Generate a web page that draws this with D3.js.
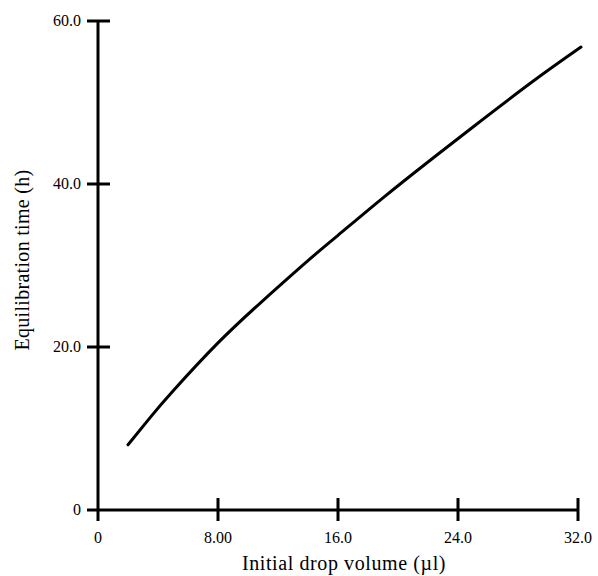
<!DOCTYPE html>
<html>
<head>
<meta charset="utf-8">
<script src="https://cdn.jsdelivr.net/npm/d3@7"></script>
<style>
  body { margin: 0; background: #fff; }
  text { font-family: "Liberation Serif", "DejaVu Serif", serif; fill: #000; }
</style>
</head>
<body>
<div id="chart"></div>
<script>
var volume = [2, 3.5, 5, 8, 11, 14, 16, 19, 22, 25, 29, 32.2];
var eqTime = [8.0, 11.4, 14.6, 20.5, 25.7, 30.6, 33.7, 38.3, 42.7, 47.0, 52.6, 56.8];
var xTicks = [0, 8, 16, 24, 32];
var xTickLabels = ['0', '8.00', '16.0', '24.0', '32.0'];
var yTicks = [0, 20, 40, 60];
var yTickLabels = ['0', '20.0', '40.0', '60.0'];

(function() {
    'use strict';
    var width = 598, height = 576, svg, x, y, line, pts;

    svg = d3.select('#chart').append('svg')
        .attr('width', width)
        .attr('height', height);

    x = d3.scaleLinear().domain([0, 32]).range([98, 578]);
    y = d3.scaleLinear().domain([0, 60]).range([510, 21]);

    // Axes lines
    svg.append('line')
        .attr('x1', x(0)).attr('y1', y(60))
        .attr('x2', x(0)).attr('y2', y(0) + 11)
        .attr('stroke', '#000').attr('stroke-width', 3);
    svg.append('line')
        .attr('x1', x(0) - 11).attr('y1', y(0))
        .attr('x2', x(32)).attr('y2', y(0))
        .attr('stroke', '#000').attr('stroke-width', 3);

    // x ticks
    xTicks.forEach(function(t, i) {
        if (t > 0) {
            svg.append('line')
                .attr('x1', x(t)).attr('x2', x(t))
                .attr('y1', y(0) - 12).attr('y2', y(0) + 11)
                .attr('stroke', '#000').attr('stroke-width', 3);
        }
        svg.append('text')
            .attr('x', x(t))
            .attr('y', y(0) + 33)
            .attr('text-anchor', 'middle')
            .attr('font-size', 16)
            .text(xTickLabels[i]);
    });

    // y ticks
    yTicks.forEach(function(t, i) {
        if (t > 0) {
            svg.append('line')
                .attr('x1', x(0) - 11).attr('x2', x(0) + 12)
                .attr('y1', y(t)).attr('y2', y(t))
                .attr('stroke', '#000').attr('stroke-width', 3);
        }
        svg.append('text')
            .attr('x', x(0) - 17)
            .attr('y', y(t) + 5)
            .attr('text-anchor', 'end')
            .attr('font-size', 16)
            .text(yTickLabels[i]);
    });

    // Axis titles
    svg.append('text')
        .attr('x', 344)
        .attr('y', 570)
        .attr('text-anchor', 'middle')
        .attr('font-size', 20)
        .attr('letter-spacing', 0.6)
        .text('Initial drop volume (\u00b5l)');
    svg.append('text')
        .attr('transform', 'translate(29,' + 260 + ') rotate(-90)')
        .attr('text-anchor', 'middle')
        .attr('font-size', 20)
        .attr('letter-spacing', 0.3)
        .text('Equilibration time (h)');

    // Curve
    pts = volume.map(function(v, i) { return [v, eqTime[i]]; });
    line = d3.line()
        .x(function(d) { return x(d[0]); })
        .y(function(d) { return y(d[1]); })
        .curve(d3.curveNatural);
    svg.append('path')
        .datum(pts)
        .attr('d', line)
        .attr('fill', 'none')
        .attr('stroke', '#000')
        .attr('stroke-width', 3)
        .attr('stroke-linecap', 'round');
}());
</script>
</body>
</html>
